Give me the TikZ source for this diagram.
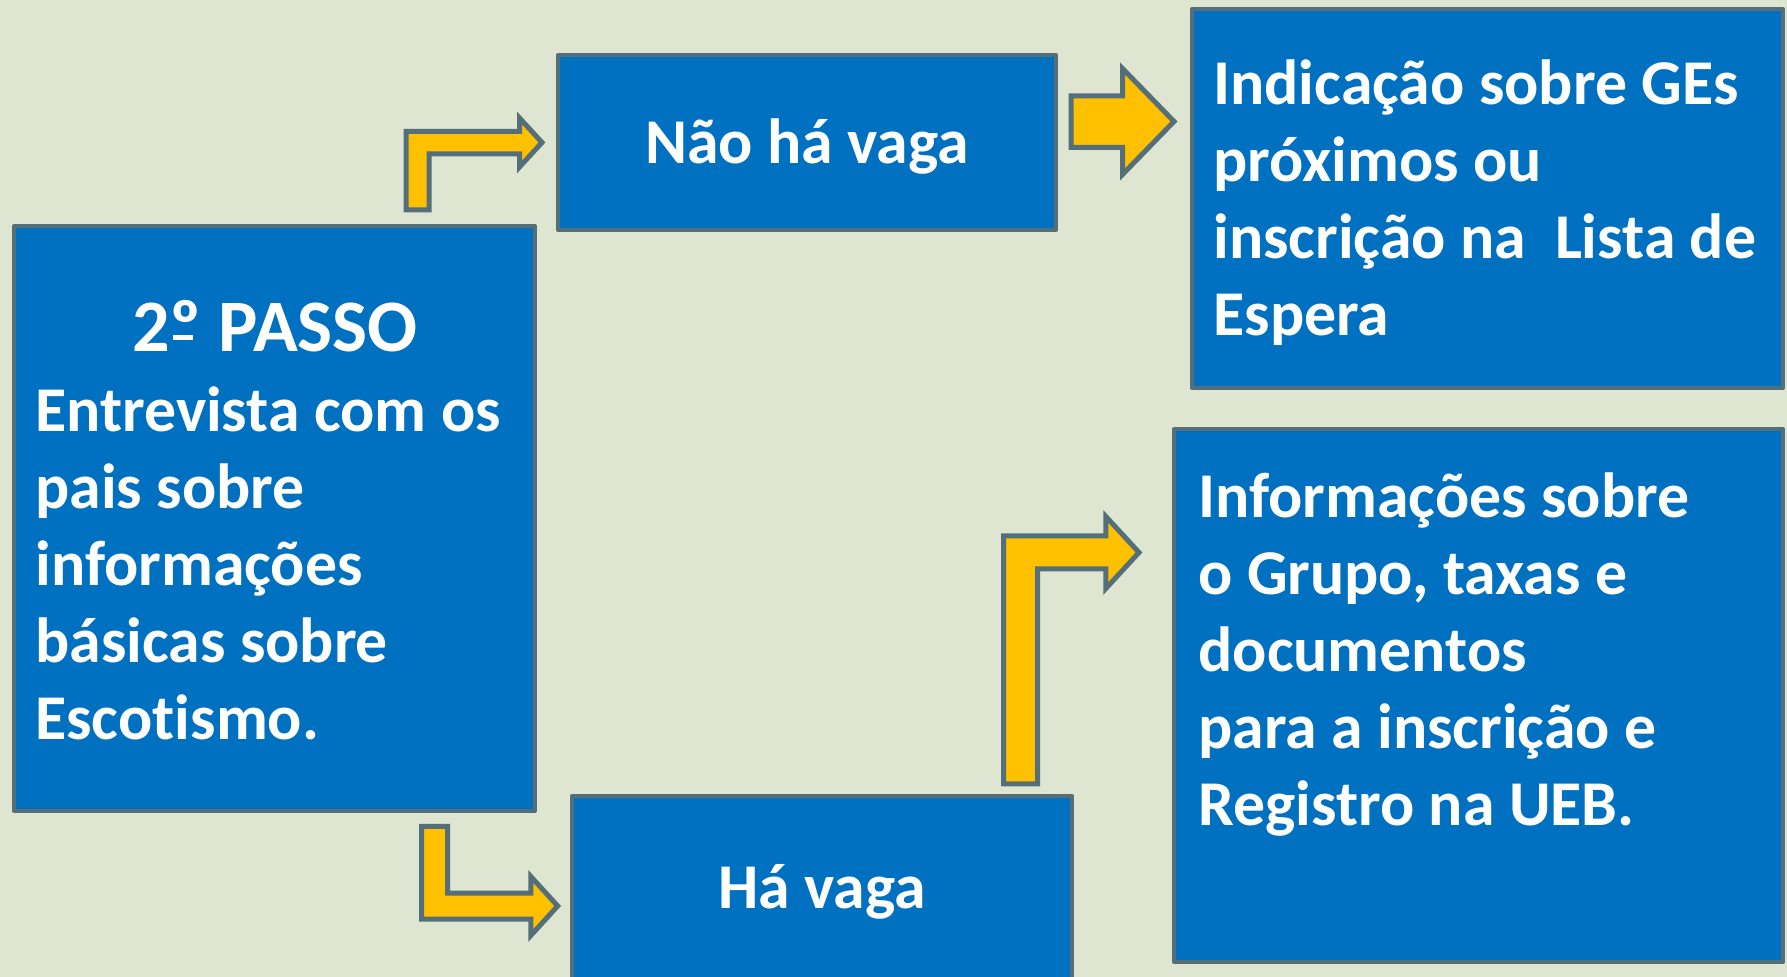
\documentclass[tikz,border=0pt]{standalone}
\usepackage{fontspec}
\setmainfont{Carlito}[Ligatures=NoCommon]
\usetikzlibrary{calc}

\definecolor{fundo}{RGB}{222,229,208}
\definecolor{azul}{RGB}{0,112,192}
\definecolor{contorno}{RGB}{84,111,122}
\definecolor{amarelo}{RGB}{255,192,0}

\begin{document}
\begin{tikzpicture}[x=0.5pt,y=0.5pt,
        caixa/.style={draw=contorno,fill=azul,line width=2pt,line join=round,inner sep=0pt},
        texto/.style={text=white,font=\bfseries\fontsize{31.9}{38.4}\selectfont,inner sep=0pt},
        bloco/.style={texto,anchor=base west,text width=400pt,align=flush left},
        seta/.style={draw=contorno,fill=amarelo,line width=2.5pt}]
        \useasboundingbox (0,0) rectangle (1787,977);
        \fill[fundo] (0,0) rectangle (1787,977);
        \clip (0,0) rectangle (1787,977);
        % caixas
        \node[caixa,minimum width=260.5pt,minimum height=292.5pt] (passo) at (274.5,458.5) {};
        \node[caixa,minimum width=249pt,minimum height=87.5pt] (nao) at (807,834.5) {};
        \node[caixa,minimum width=295.5pt,minimum height=189.5pt] (indic) at (1487.5,778.5) {};
        \node[caixa,minimum width=304.5pt,minimum height=266.5pt] (info) at (1478.5,281.5) {};
        \node[caixa,minimum width=250pt,minimum height=107pt] (ha) at (822,74) {};
        % textos
        \node[texto,anchor=base] (naotexto) at (807,813) {Não há vaga};
        \node[texto,anchor=base] (hatexto) at (822,68) {Há vaga};
        \node[texto,font=\bfseries\fontsize{37}{44}\selectfont,anchor=base] (passotitulo) at (275,625)
            {2\rlap{\hspace{0.05em}\raisebox{0.16em}{\rule{0.27em}{0.07em}}}º PASSO};
        \node[bloco] (passotexto) at (35,545)
            {Entrevista com os\\pais sobre\\informações\\básicas sobre\\Escotismo.};
        \node[bloco] (indictexto) at (1213,872)
            {Indicação sobre GEs\\próximos ou\\inscrição na~ Lista de\\Espera};
        \node[bloco] (infotexto) at (1198,459)
            {Informações sobre\\o Grupo, taxas e\\documentos\\para a inscrição e\\Registro na UEB.};
        % setas
        \draw[seta] (406,767) -- (406,845.5) -- (519.5,845.5) -- (519.5,859) -- (542,834.5)
            -- (519.5,810) -- (519.5,823) -- (429,823) -- (429,767) -- cycle;
        \draw[seta] (1071,829.5) -- (1071,881) -- (1122.5,881) -- (1122.5,908.5) -- (1174,855.5)
            -- (1122.5,802.5) -- (1122.5,829.5) -- cycle;
        \draw[seta] (421.5,150.5) -- (447.5,150.5) -- (447.5,83.8) -- (530.8,83.8) -- (530.8,100.5)
            -- (557.7,71) -- (530.8,41.5) -- (530.8,57.8) -- (421.5,57.8) -- cycle;
        \draw[seta] (1003.5,193) -- (1003.5,441) -- (1105.8,441) -- (1105.8,460.5) -- (1139,424.5)
            -- (1105.8,388.5) -- (1105.8,408) -- (1037.5,408) -- (1037.5,193) -- cycle;
\end{tikzpicture}
\end{document}
